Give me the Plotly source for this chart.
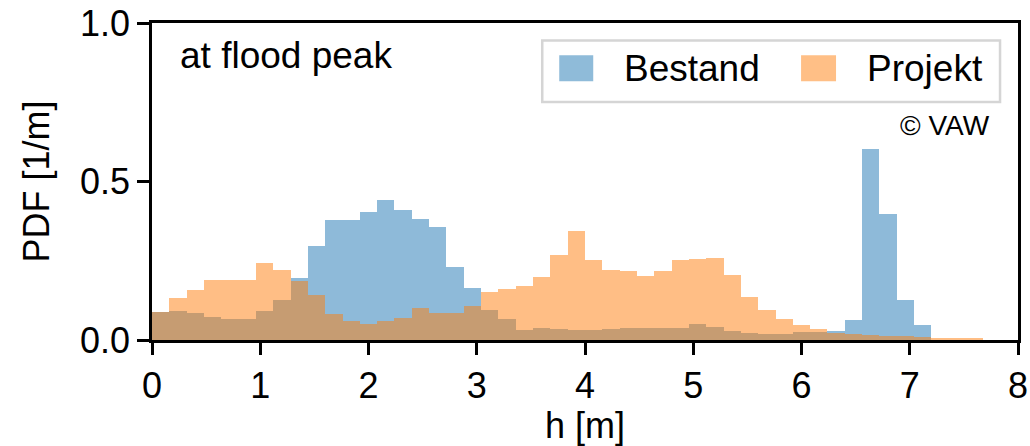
import plotly.graph_objects as go
import numpy as np

# ---- data (density histograms, bin width 0.16 m, bins from 0 to 8 m) ----
bin_width = 0.16
bin_start = 0.0

bestand = [0.087, 0.093, 0.085, 0.072, 0.066, 0.066, 0.093, 0.125, 0.196, 0.297,
           0.379, 0.379, 0.404, 0.442, 0.411, 0.382, 0.355, 0.229, 0.163, 0.095,
           0.066, 0.032, 0.038, 0.035, 0.030, 0.030, 0.035, 0.039, 0.039, 0.039,
           0.038, 0.052, 0.042, 0.028, 0.021, 0.018, 0.018, 0.024, 0.024, 0.027,
           0.062, 0.601, 0.399, 0.125, 0.046, 0.0, 0.0, 0.0, 0.0, 0.0]

projekt = [0.087, 0.133, 0.158, 0.188, 0.188, 0.190, 0.243, 0.222, 0.186, 0.141,
           0.083, 0.059, 0.052, 0.059, 0.069, 0.100, 0.084, 0.084, 0.108, 0.150,
           0.160, 0.171, 0.198, 0.268, 0.344, 0.251, 0.221, 0.218, 0.203, 0.218,
           0.251, 0.254, 0.259, 0.204, 0.136, 0.096, 0.066, 0.048, 0.035, 0.021,
           0.020, 0.016, 0.014, 0.012, 0.009, 0.007, 0.005, 0.005, 0.0, 0.0]

series_names = ["Bestand", "Projekt"]
series_colors = ["#1f77b4", "#ff7f0e"]

x_ticks = [0, 1, 2, 3, 4, 5, 6, 7, 8]
y_ticks = [0.0, 0.5, 1.0]

title_text = "at flood peak"
copyright_text = "© VAW"
x_label = "h [m]"
y_label = "PDF [1/m]"

centers = bin_start + bin_width * (np.arange(len(bestand)) + 0.5)

FONT = "Liberation Sans, Arial, sans-serif"
FS = 36
FS_TXT = 37

fig = go.Figure()
for name, vals, col in zip(series_names, [bestand, projekt], series_colors):
    fig.add_trace(go.Bar(
        x=centers, y=vals, width=bin_width, name=name,
        marker=dict(color=col, line=dict(width=0)),
        opacity=0.5, showlegend=False,
    ))

# ---- custom legend (matplotlib style) ----
shapes = [dict(type="rect", xref="x", yref="y", x0=3.605, x1=7.834, y0=0.751, y1=0.945,
               line=dict(color="#d5d5d5", width=2.5), fillcolor="rgba(255,255,255,0.8)",
               layer="above")]
legend_patch_x = [(3.762, 4.076), (5.996, 6.319)]
legend_text_x = [4.34, 6.587]
annotations = []
for (px0, px1), tx, name, col in zip(legend_patch_x, legend_text_x, series_names, series_colors):
    shapes.append(dict(type="rect", xref="x", yref="y", x0=px0, x1=px1, y0=0.816, y1=0.898,
                       line=dict(width=0), fillcolor=col, opacity=0.5, layer="above"))
    annotations.append(dict(x=tx, y=0.857, xref="x", yref="y", text=name, showarrow=False,
                            xanchor="left", yanchor="middle",
                            font=dict(family=FONT, size=FS_TXT, color="black")))

annotations.append(dict(x=0.243, y=0.897, xref="x", yref="y", text=title_text, showarrow=False,
                        xanchor="left", yanchor="middle",
                        font=dict(family=FONT, size=FS_TXT, color="black")))
annotations.append(dict(x=7.757, y=0.677, xref="x", yref="y", text=copyright_text, showarrow=False,
                        xanchor="right", yanchor="middle",
                        font=dict(family=FONT, size=28, color="black")))

fig.update_layout(
    width=1030, height=446,
    margin=dict(l=152, r=12, t=23, b=106),
    paper_bgcolor="white", plot_bgcolor="white",
    barmode="overlay", bargap=0,
    font=dict(family=FONT, size=FS, color="black"),
    shapes=shapes, annotations=annotations,
    showlegend=False,
)
fig.update_xaxes(
    range=[0, 8], tickvals=x_ticks, ticktext=[str(t) for t in x_ticks],
    showgrid=False, zeroline=False, showline=True, linecolor="black", linewidth=2.5,
    mirror=True, ticks="outside", ticklen=12, tickwidth=2.5, tickcolor="black",
    title=dict(text=x_label, font=dict(family=FONT, size=FS), standoff=14),
    tickfont=dict(family=FONT, size=FS), automargin=False,
)
fig.update_yaxes(
    range=[0, 1.0], tickvals=y_ticks, ticktext=[f"{t:.1f}" for t in y_ticks],
    showgrid=False, zeroline=False, showline=True, linecolor="black", linewidth=2.5,
    mirror=True, ticks="outside", ticklen=12, tickwidth=2.5, tickcolor="black",
    title=dict(text=y_label, font=dict(family=FONT, size=FS), standoff=20),
    tickfont=dict(family=FONT, size=FS), automargin=False,
)

fig.write_html("out.html")
